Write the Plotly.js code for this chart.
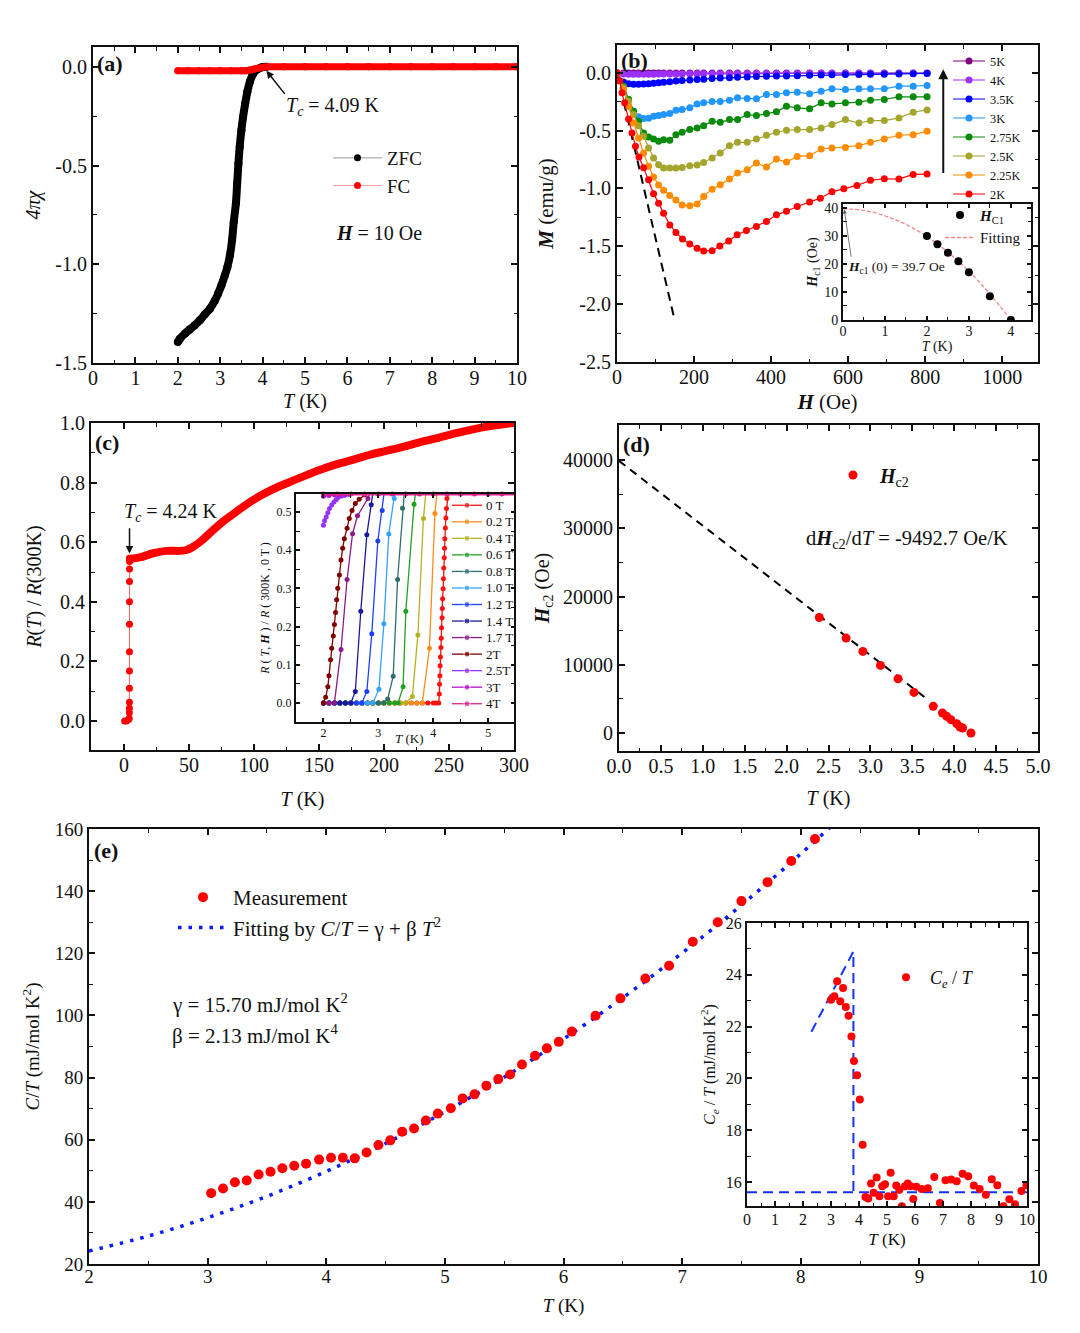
<!DOCTYPE html>
<html><head><meta charset="utf-8">
<script src="https://cdn.plot.ly/plotly-3.0.1.min.js"></script>
<style>html,body{margin:0;padding:0;background:#fff}#chart{width:1080px;height:1333px}</style>
</head><body><div id="chart"></div>
<script>
// ================= DATA =================
// (a) susceptibility
const ZFC_T = [2.0,2.05,2.17,2.28,2.40,2.52,2.64,2.76,2.87,2.95,3.03,3.11,3.17,3.23,3.28,3.32,3.37,3.40,3.43,3.46,3.50,3.54,3.59,3.64,3.70,3.78,3.87,3.98,4.09];
const ZFC_V = [-1.394,-1.377,-1.351,-1.331,-1.309,-1.284,-1.253,-1.225,-1.186,-1.149,-1.106,-1.056,-1.014,-0.954,-0.878,-0.785,-0.693,-0.591,-0.49,-0.405,-0.321,-0.253,-0.186,-0.127,-0.076,-0.034,-0.0135,-0.003,0];
const FC_T = [2.0,2.25,2.5,2.75,3.0,3.25,3.5,3.6,3.7,3.8,3.9,4.0,4.1,4.5,5,5.5,6,6.5,7,7.5,8,8.5,9,9.5,10];
const FC_V = [-0.02,-0.02,-0.02,-0.02,-0.02,-0.02,-0.02,-0.02,-0.017,-0.012,-0.007,-0.003,0,0,0,0,0,0,0,0,0,0,0,0,0];
const A_XTICKS = [0,1,2,3,4,5,6,7,8,9,10];
const A_YTICKS = [0,-0.5,-1,-1.5];
const A_YLABELS = ['0.0','-0.5','-1.0','-1.5'];

// (b) magnetization M(H)
const MH_LABELS = ['5K','4K','3.5K','3K','2.75K','2.5K','2.25K','2K'];
const MH_COLORS = ['#800080','#9B30FF','#0000FF','#2196FF','#0A8A0A','#A3A52C','#FF8C00','#FF0000'];
const H_GRID = [0,17,30,43,56,69,82,95,108,121,137,153,169,189,208,225,247,268,292,313,338,362,388,414,440,468,500,530,558,593,628,658,694,732,769,805];
const M_5K   = [0,-0.002,-0.002,-0.002,-0.002,-0.002,-0.002,-0.002,-0.002,-0.002,-0.002,-0.002,-0.002,-0.002,-0.002,-0.002,-0.002,-0.002,-0.002,-0.002,-0.002,-0.002,-0.002,-0.002,-0.002,-0.002,-0.002,-0.002,-0.002,-0.002,-0.002,-0.002,-0.002,-0.002,-0.002,-0.002];
const M_4K   = [0,-0.01,-0.012,-0.013,-0.013,-0.013,-0.012,-0.012,-0.011,-0.011,-0.010,-0.010,-0.010,-0.009,-0.009,-0.009,-0.008,-0.008,-0.008,-0.007,-0.007,-0.007,-0.007,-0.006,-0.006,-0.006,-0.006,-0.005,-0.005,-0.005,-0.005,-0.005,-0.004,-0.004,-0.004,-0.004];
const M_3p5K = [0,-0.08,-0.095,-0.10,-0.10,-0.098,-0.095,-0.09,-0.086,-0.082,-0.077,-0.072,-0.067,-0.062,-0.058,-0.055,-0.05,-0.046,-0.042,-0.039,-0.036,-0.033,-0.031,-0.029,-0.027,-0.025,-0.022,-0.02,-0.018,-0.016,-0.014,-0.013,-0.012,-0.01,-0.008,-0.006];
const M_3K   = [0,-0.116,-0.231,-0.332,-0.38,-0.396,-0.393,-0.376,-0.37,-0.361,-0.353,-0.324,-0.318,-0.303,-0.269,-0.26,-0.249,-0.249,-0.237,-0.217,-0.223,-0.225,-0.188,-0.188,-0.173,-0.168,-0.182,-0.159,-0.139,-0.145,-0.139,-0.139,-0.139,-0.116,-0.116,-0.11];
const M_2p75K= [0,-0.116,-0.231,-0.332,-0.419,-0.52,-0.555,-0.572,-0.592,-0.578,-0.584,-0.535,-0.514,-0.491,-0.477,-0.457,-0.419,-0.428,-0.405,-0.405,-0.361,-0.37,-0.353,-0.338,-0.289,-0.303,-0.312,-0.26,-0.269,-0.26,-0.254,-0.237,-0.231,-0.208,-0.208,-0.208];
const M_2p5K = [0,-0.13,-0.246,-0.361,-0.457,-0.549,-0.65,-0.737,-0.795,-0.824,-0.824,-0.824,-0.818,-0.803,-0.798,-0.775,-0.737,-0.694,-0.63,-0.601,-0.601,-0.572,-0.54,-0.514,-0.497,-0.491,-0.491,-0.477,-0.448,-0.405,-0.434,-0.413,-0.413,-0.39,-0.341,-0.321];
const M_2p25K= [0,-0.145,-0.289,-0.434,-0.564,-0.694,-0.809,-0.90,-0.97,-1.015,-1.06,-1.10,-1.142,-1.15,-1.135,-1.069,-1.006,-0.968,-0.919,-0.867,-0.838,-0.78,-0.815,-0.746,-0.772,-0.723,-0.717,-0.659,-0.65,-0.645,-0.63,-0.601,-0.572,-0.54,-0.535,-0.506];
const H_2K = [0,7,13,20,30,39,48,57,69,82,95,108,121,137,153,170,189,208,225,247,267,290,312,336,362,388,414,440,468,500,528,558,589,623,658,694,732,769,805];
const M_2K = [0,-0.07,-0.173,-0.26,-0.40,-0.52,-0.636,-0.728,-0.82,-0.925,-1.046,-1.127,-1.214,-1.315,-1.38,-1.436,-1.48,-1.517,-1.54,-1.538,-1.497,-1.454,-1.40,-1.364,-1.329,-1.286,-1.228,-1.197,-1.156,-1.118,-1.084,-1.029,-1.003,-0.974,-0.93,-0.916,-0.919,-0.879,-0.876];
const MEISSNER_H = [0,147];
const MEISSNER_M = [0,-2.1];
const B_XTICKS = [0,200,400,600,800,1000];
const B_YTICKS = [0,-0.5,-1,-1.5,-2,-2.5];
const B_YLABELS = ['0.0','-0.5','-1.0','-1.5','-2.0','-2.5'];

// (b) inset Hc1(T)
const HC1_T = [2,2.25,2.5,2.75,3,3.5,4];
const HC1_H = [30,27,24,21,17,8.5,0];
const HC1FIT_T = [0,0.5,1,1.5,2,2.5,3,3.5,4];
const HC1FIT_H = [39.7,39.1,37.2,34.1,29.8,24.2,17.4,9.3,0];

// (c) resistance
const R_TR_T = [0.5,2.0,3.5,4.0,4.1,4.15,4.17,4.18,4.19,4.2,4.21,4.22,4.23,4.235,4.24,4.25,4.3];
const R_TR_V = [0,0,0.005,0.009,0.028,0.043,0.063,0.11,0.168,0.233,0.325,0.40,0.468,0.51,0.535,0.546,0.546];
const R_N_T = [4.4,12.1,22.4,32.6,42.9,48.1,53.2,59.6,67.4,76.3,86.6,99.5,112.3,125.2,138.0,150.9,163.8,176.6,189.5,202.3,215.2,228.0,240.9,253.7,266.6,279.4,292.3,300];
const R_N_V = [0.544,0.549,0.563,0.571,0.571,0.574,0.585,0.605,0.636,0.670,0.703,0.742,0.773,0.798,0.821,0.843,0.862,0.877,0.894,0.907,0.921,0.936,0.949,0.964,0.977,0.988,0.996,1.0];
const C_XTICKS = [0,50,100,150,200,250,300];
const C_YTICKS = [0,0.2,0.4,0.6,0.8,1.0];
const C_YLABELS = ['0.0','0.2','0.4','0.6','0.8','1.0'];

// (c) inset R(T,H)
const FIELD_LABELS = ['0 T','0.2 T','0.4 T','0.6 T','0.8 T','1.0 T','1.2 T','1.4 T','1.7 T','2T','2.5T','3T','4T'];
const FIELD_COLORS = ['#FF1010','#FF8C1A','#B3B323','#22A022','#2F6F6F','#36A2FF','#1F3FFF','#1A1A99','#8B1A8B','#800000','#9933FF','#B414D0','#E0208C'];
const RH_T = [
 [2.0,2.1,2.2,2.3,2.4,2.5,2.6,2.7,2.8,2.9,3.0,3.1,3.2,3.3,3.4,3.5,3.6,3.7,3.8,3.9,4.0,4.05,4.10,4.11,4.115,4.12,4.125,4.13,4.14,4.145,4.15,4.16,4.165,4.17,4.18,4.185,4.19,4.20,4.205,4.21,4.22,4.23,4.24,4.25,4.26,4.30],
 [2.0,2.1,2.2,2.3,2.4,2.5,2.6,2.7,2.8,2.9,3.0,3.1,3.2,3.3,3.4,3.5,3.6,3.7,3.8,3.93,4.03,4.10],
 [2.0,2.1,2.2,2.3,2.4,2.5,2.6,2.7,2.8,2.9,3.0,3.1,3.2,3.3,3.4,3.5,3.62,3.72,3.82,3.90],
 [2.0,2.1,2.2,2.3,2.4,2.5,2.6,2.7,2.8,2.9,3.0,3.1,3.2,3.3,3.36,3.45,3.50,3.65,3.72],
 [2.0,2.1,2.2,2.3,2.4,2.5,2.6,2.7,2.8,2.9,3.0,3.1,3.17,3.27,3.35,3.44,3.50],
 [2.0,2.1,2.2,2.3,2.4,2.5,2.6,2.7,2.8,2.9,3.01,3.10,3.19,3.29,3.35],
 [2.0,2.1,2.2,2.3,2.4,2.5,2.6,2.7,2.79,2.88,2.99,3.07,3.15],
 [2.0,2.1,2.2,2.3,2.4,2.5,2.58,2.68,2.79,2.87,2.95],
 [2.0,2.1,2.2,2.32,2.43,2.53,2.62,2.81,2.95],
 [2.0,2.04,2.08,2.10,2.13,2.15,2.18,2.2,2.22,2.24,2.26,2.29,2.32,2.35,2.38,2.43,2.47,2.52,2.58,2.65,2.75,2.9],
 [2.0,2.02,2.05,2.08,2.11,2.15,2.19,2.23,2.26,2.32,2.38,2.45,2.55,2.7],
 [2.0,2.1,2.2,2.3,2.4,2.5,2.7],
 [2.0,2.25,2.5,2.75,3.0,3.25,3.5,3.75,4.0,4.25,4.5,4.75,5.0,5.25,5.5]
];
const RH_R = [
 [0,0,0,0,0,0,0,0,0,0,0,0,0,0,0,0,0,0,0,0,0,0,0,0.023,0.049,0.071,0.097,0.12,0.145,0.169,0.197,0.223,0.247,0.273,0.299,0.325,0.353,0.38,0.405,0.43,0.458,0.484,0.509,0.535,0.56,0.60],
 [0,0,0,0,0,0,0,0,0,0,0,0,0,0,0,0,0,0,0,0.143,0.496,0.60],
 [0,0,0,0,0,0,0,0,0,0,0,0,0,0,0,0,0.017,0.178,0.483,0.60],
 [0,0,0,0,0,0,0,0,0,0,0,0,0,0,0,0.042,0.24,0.52,0.60],
 [0,0,0,0,0,0,0,0,0,0,0,0,0.01,0.07,0.323,0.51,0.60],
 [0,0,0,0,0,0,0,0,0,0,0.036,0.207,0.442,0.535,0.60],
 [0,0,0,0,0,0,0,0,0.03,0.181,0.424,0.504,0.60],
 [0,0,0,0,0,0,0.03,0.24,0.44,0.519,0.60],
 [0,0,0,0.14,0.323,0.443,0.49,0.535,0.60],
 [0,0.015,0.042,0.071,0.113,0.143,0.175,0.205,0.237,0.27,0.3,0.335,0.374,0.405,0.43,0.457,0.483,0.504,0.522,0.533,0.545,0.56],
 [0.465,0.477,0.487,0.498,0.509,0.518,0.526,0.532,0.537,0.541,0.543,0.546,0.55,0.555],
 [0.541,0.543,0.545,0.546,0.547,0.548,0.55],
 [0.547,0.547,0.547,0.547,0.547,0.547,0.547,0.547,0.547,0.547,0.547,0.547,0.547,0.547,0.547]
];
const CI_XTICKS = [2,3,4,5];
const CI_YTICKS = [0,0.1,0.2,0.3,0.4,0.5];
const CI_YLABELS = ['0.0','0.1','0.2','0.3','0.4','0.5'];

// (d) Hc2(T)
const HC2_T = [2.39,2.71,2.91,3.12,3.33,3.52,3.75,3.86,3.91,3.96,4.03,4.07,4.10,4.20];
const HC2_H = [16930,13900,11950,9900,7950,5950,3900,2930,2440,1950,1370,880,730,0];
const HC2FIT_T = [0,3.65];
const HC2FIT_H = [39870,5220];
const D_XTICKS = [0,0.5,1,1.5,2,2.5,3,3.5,4,4.5,5];
const D_XLABELS = ['0.0','0.5','1.0','1.5','2.0','2.5','3.0','3.5','4.0','4.5','5.0'];
const D_YTICKS = [0,10000,20000,30000,40000];

// (e) specific heat
const CT_T = [3.03,3.13,3.23,3.33,3.43,3.53,3.63,3.73,3.83,3.94,4.04,4.14,4.24,4.34,4.44,4.54,4.64,4.74,4.84,4.94,5.05,5.15,5.25,5.35,5.45,5.55,5.65,5.76,5.86,5.96,6.07,6.27,6.48,6.69,6.89,7.09,7.30,7.50,7.72,7.92,8.12];
const CT_V = [42.8,44.3,46.3,46.9,48.8,49.7,50.8,51.6,52.3,53.6,54.2,54.2,54.0,55.9,58.3,59.8,62.6,63.6,66.2,68.4,70.1,73.3,74.6,77.4,79.5,81.0,84.2,87.0,89.4,91.5,94.8,99.9,105.5,111.9,116.0,123.7,130.0,136.8,142.9,149.7,156.8];
const CTFIT_T = [2,2.5,3,3.5,4,4.5,5,5.5,6,6.5,7,7.5,8,8.3];
const CTFIT_V = [24.2,29.0,34.9,41.8,49.8,58.8,69.0,80.1,92.4,105.7,120.1,135.5,152.0,162.4];
const E_XTICKS = [2,3,4,5,6,7,8,9,10];
const E_YTICKS = [20,40,60,80,100,120,140,160];

// (e) inset Ce/T
const CE_T = [3.0,3.12,3.22,3.33,3.43,3.53,3.63,3.73,3.82,3.93,4.03,4.13,4.23,4.33,4.43,4.52,4.63,4.73,4.83,4.93,5.04,5.13,5.24,5.33,5.44,5.53,5.64,5.74,5.84,5.94,6.05,6.24,6.46,6.69,6.89,7.09,7.29,7.49,7.70,7.90,8.10,8.31,8.53,8.74,8.94,9.16,9.37,9.57,9.80,9.98];
const CE_V = [23.04,23.17,23.75,22.98,23.49,22.76,22.42,21.62,20.67,20.12,19.18,17.44,15.42,15.36,15.94,15.58,16.17,15.45,15.83,15.91,15.45,16.35,15.45,15.86,15.70,15.06,15.83,15.94,15.83,15.34,15.81,15.73,15.76,16.19,15.19,16.06,16.09,16.03,16.32,16.22,15.86,15.73,15.50,16.10,15.87,15.06,15.33,15.14,15.65,15.87];
const CEGUIDE_T = [2.3,3.8,3.8,null,0,10];
const CEGUIDE_V = [21.8,24.9,15.6,null,15.6,15.6];
const EI_XTICKS = [0,1,2,3,4,5,6,7,8,9,10];
const EI_YTICKS = [16,18,20,22,24,26];

// ================= STYLE / LAYOUT =================
const FONT = '"Liberation Serif", "Times New Roman", serif';
const INK = '#111111';
const W = 1080, H = 1333;
const dX = (a, b) => [a / W, b / W];
const dY = (top, bottom) => [1 - bottom / H, 1 - top / H];

// rich-text helpers: styled spans carry an explicit pixel size
const it = (s, px) => '<span style="font-style:italic;font-size:' + px + 'px">' + s + '</span>';
const bf = (s, px) => '<span style="font-weight:bold;font-size:' + px + 'px">' + s + '</span>';
const bi = (s, px) => '<span style="font-weight:bold;font-style:italic;font-size:' + px + 'px">' + s + '</span>';
const TK = px => it('T', px) + ' (K)';
const sub = (s, px) => '<sub>' + s + '</sub>';

function axis(o) {
  return Object.assign({
    showline: true, linecolor: INK, linewidth: 2, mirror: 'allticks',
    ticks: 'inside', ticklen: 6, tickwidth: 1.5, tickcolor: INK,
    showgrid: false, zeroline: false, automargin: false, fixedrange: true,
    tickmode: 'array', tickfont: {family: FONT, size: 20, color: INK}
  }, o);
}
function minor(d) { return {ticks: 'inside', ticklen: 3.5, tickwidth: 1.2, tickcolor: INK, dtick: d, tick0: 0, showgrid: false}; }
function ttl(text, size, standoff) { return {text: text, font: {family: FONT, size: size, color: INK}, standoff: standoff}; }
function leg(x, top, size, itemwidth) {
  return {x: x / W, y: 1 - top / H, xanchor: 'left', yanchor: 'top', bgcolor: 'rgba(0,0,0,0)',
          borderwidth: 0, itemwidth: itemwidth, tracegroupgap: 0, traceorder: 'normal',
          font: {family: FONT, size: size, color: INK}, itemclick: false, itemdoubleclick: false};
}

const traces = [];

// ---- (a)
traces.push({x: ZFC_T, y: ZFC_V, xaxis: 'x', yaxis: 'y', name: 'ZFC', legend: 'legend', mode: 'lines+markers',
  line: {color: '#9a9a9a', width: 1}, marker: {color: '#000', size: 7}});
traces.push({x: FC_T, y: FC_V, xaxis: 'x', yaxis: 'y', name: 'FC', legend: 'legend', mode: 'lines+markers',
  line: {color: '#ff9a9a', width: 1}, marker: {color: '#ff0000', size: 7}});
traces.push({x: ZFC_T, y: ZFC_V, xaxis: 'x', yaxis: 'y', showlegend: false, mode: 'lines+markers',
  line: {color: '#000', width: 8, shape: 'spline'}, marker: {color: '#000', size: 8}});
traces.push({x: FC_T, y: FC_V, xaxis: 'x', yaxis: 'y', showlegend: false, mode: 'lines+markers',
  line: {color: '#ff0000', width: 7, shape: 'spline'}, marker: {color: '#ff0000', size: 7}});

// ---- (b)
traces.push({x: MEISSNER_H, y: MEISSNER_M, xaxis: 'x2', yaxis: 'y2', showlegend: false, mode: 'lines',
  line: {color: '#000', width: 2, dash: '9px,6px'}});
const M_SERIES = [M_5K, M_4K, M_3p5K, M_3K, M_2p75K, M_2p5K, M_2p25K, M_2K];
MH_LABELS.forEach(function (lab, i) {
  traces.push({x: i === 7 ? H_2K : H_GRID, y: M_SERIES[i], xaxis: 'x2', yaxis: 'y2', name: lab, legend: 'legend2',
    mode: 'lines+markers', line: {color: MH_COLORS[i], width: 1.2}, marker: {color: MH_COLORS[i], size: 7}});
});

// ---- (b) inset
traces.push({x: HC1FIT_T, y: HC1FIT_H, xaxis: 'x3', yaxis: 'y3', name: 'Fitting', legend: 'legend3', legendrank: 2,
  mode: 'lines', line: {color: '#f08a8a', width: 1.3, dash: '4px,2px', shape: 'spline'}});
traces.push({x: HC1_T, y: HC1_H, xaxis: 'x3', yaxis: 'y3', name: bi('H', 15) + '<sub>C1</sub>', legend: 'legend3', legendrank: 1,
  mode: 'markers', marker: {color: '#000', size: 8}});

// ---- (c)
traces.push({x: R_N_T, y: R_N_V, xaxis: 'x4', yaxis: 'y4', showlegend: false, mode: 'lines',
  line: {color: '#ff0000', width: 8, shape: 'spline'}});
traces.push({x: R_TR_T, y: R_TR_V, xaxis: 'x4', yaxis: 'y4', showlegend: false, mode: 'lines+markers',
  line: {color: '#ff6060', width: 1}, marker: {color: '#ff0000', size: 7}});

// ---- (c) inset
FIELD_LABELS.forEach(function (lab, i) {
  traces.push({x: RH_T[i], y: RH_R[i], xaxis: 'x5', yaxis: 'y5', name: lab, showlegend: false,
    mode: 'lines+markers', cliponaxis: i === 12 ? false : true,
    line: {color: FIELD_COLORS[i], width: i === 12 ? 3 : 1.3}, marker: {color: FIELD_COLORS[i], size: 5}});
});
// key for the inset (drawn on its own small hidden axes so the rows can be packed tightly)
const KEY_X = [0, 15, 30];
FIELD_LABELS.forEach(function (lab, i) {
  traces.push({x: KEY_X, y: [i, i, i], xaxis: 'x9', yaxis: 'y9', showlegend: false, hoverinfo: 'skip',
    mode: 'lines+markers', line: {color: FIELD_COLORS[i], width: 1.3}, marker: {color: FIELD_COLORS[i], size: [0, 6, 0]}});
});

// ---- (d)
traces.push({x: HC2FIT_T, y: HC2FIT_H, xaxis: 'x6', yaxis: 'y6', showlegend: false, mode: 'lines',
  line: {color: '#000', width: 2, dash: '8px,6px'}});
traces.push({x: HC2_T, y: HC2_H, xaxis: 'x6', yaxis: 'y6', name: bi('H', 20) + '<sub>c2</sub>', legend: 'legend4',
  mode: 'markers', marker: {color: '#ff0000', size: 9}});

// ---- (e)
traces.push({x: CTFIT_T, y: CTFIT_V, xaxis: 'x7', yaxis: 'y7', legend: 'legend5', legendrank: 2,
  name: 'Fitting by ' + it('C', 21) + '/' + it('T', 21) + ' = γ + β ' + it('T', 21) + '<sup>2</sup>', mode: 'lines',
  line: {color: '#0a1aff', width: 3.5, dash: '3.5px,7px', shape: 'spline'}});
traces.push({x: CT_T, y: CT_V, xaxis: 'x7', yaxis: 'y7', legend: 'legend5', legendrank: 1, name: 'Measurement',
  mode: 'markers', marker: {color: '#ff0000', size: 10}});

// ---- (e) inset
traces.push({x: CEGUIDE_T, y: CEGUIDE_V, xaxis: 'x8', yaxis: 'y8', showlegend: false, mode: 'lines',
  line: {color: '#1432ff', width: 2, dash: '10px,6px'}});
traces.push({x: CE_T, y: CE_V, xaxis: 'x8', yaxis: 'y8', legend: 'legend6',
  name: it('C', 18) + '<sub>' + it('e', 12.6) + '</sub> / ' + it('T', 18),
  mode: 'markers', marker: {color: '#ff0000', size: 8}});

// ---- annotations
const ann = [];
function lab(t, xref, yref, x, y, size, xa, ya) {
  ann.push({text: t, xref: xref, yref: yref, x: x, y: y, showarrow: false, xanchor: xa || 'left', yanchor: ya || 'middle',
    font: {family: FONT, size: size, color: INK}});
}
function arrow(xref, yref, x, y, ax, ay, w, col, head) {
  ann.push({text: '', xref: xref, yref: yref, x: x, y: y, ax: ax, ay: ay, axref: xref, ayref: yref,
    showarrow: true, arrowhead: head || 2, arrowsize: 1, arrowwidth: w, arrowcolor: col || INK,
    font: {family: FONT, size: 12, color: INK}});
}
// panel letters
lab(bf('(a)', 22), 'x domain', 'y domain', 0.005, 0.995, 22, 'left', 'top');
lab(bf('(b)', 22), 'x2 domain', 'y2 domain', 0.005, 0.998, 22, 'left', 'top');
lab(bf('(c)', 22), 'x4 domain', 'y4 domain', 0.005, 0.985, 22, 'left', 'top');
lab(bf('(d)', 22), 'x6 domain', 'y6 domain', 0.005, 0.985, 22, 'left', 'top');
lab(bf('(e)', 22), 'x7 domain', 'y7 domain', 0.003, 0.985, 22, 'left', 'top');
// (a)
lab(it('T', 20) + '<sub>' + it('c', 14) + '</sub> = 4.09 K', 'x', 'y', 4.5, -0.2, 20);
arrow('x', 'y', 4.09, -0.02, 4.55, -0.145, 1.5);
lab(bi('H', 20) + ' = 10 Oe', 'x', 'y', 5.68, -0.84, 20);
// (b)
arrow('x2', 'y2', 847, 0.03, 847, -0.88, 2);
// (b) inset
lab(bi('H', 13.5) + '<sub>c1</sub> (0) = 39.7 Oe', 'x3', 'y3', 0.08, 18.6, 13.5);
arrow('x3', 'y3', 0.03, 39.4, 0.2, 22, 0.8, '#555', 2);
// (c)
lab(it('T', 20) + '<sub>' + it('c', 14) + '</sub> = 4.24 K', 'x4', 'y4', -1.5, 0.70, 20);
arrow('x4', 'y4', 4.24, 0.562, 4.24, 0.652, 1.5);
lab(TK(13), 'x5', 'paper', 3.57, 1 - 738 / H, 13, 'center');
FIELD_LABELS.forEach(function (l, i) { lab(l, 'x9', 'y9', 32, i, 13); });
// (d)
lab('d' + bi('H', 20.5) + '<sub>c2</sub>/d' + it('T', 20.5) + ' = -9492.7 Oe/K', 'x6', 'y6', 3.44, 28300, 20.5, 'center');
// (e)
lab('γ = 15.70 mJ/mol K<sup>2</sup>', 'x7', 'y7', 2.68, 104.0, 21);
lab('β = 2.13 mJ/mol K<sup>4</sup>', 'x7', 'y7', 2.68, 94.0, 21);

const layout = {
  width: W, height: H, margin: {l: 0, r: 0, t: 0, b: 0},
  paper_bgcolor: '#fff', plot_bgcolor: '#fff', showlegend: true,
  font: {family: FONT, color: INK, size: 14},
  annotations: ann,
  // (a)
  xaxis: axis({domain: dX(93, 517), range: [0, 10], anchor: 'y', tickvals: A_XTICKS, ticktext: A_XTICKS.map(String),
    ticklabelstandoff: -4, minor: minor(0.5), title: ttl(TK(20), 20, 6)}),
  yaxis: axis({domain: dY(47, 363), range: [-1.5, 0.1], anchor: 'x', tickvals: A_YTICKS, ticktext: A_YLABELS,
    minor: minor(0.25), title: ttl(it('4πχ', 20), 20, 9)}),
  // (b)
  xaxis2: axis({domain: dX(617, 1038), range: [0, 1093], anchor: 'y2', tickvals: B_XTICKS, ticktext: B_XTICKS.map(String),
    ticklabelstandoff: -4, minor: minor(100), title: ttl(bi('H', 21) + ' (Oe)', 21, 7)}),
  yaxis2: axis({domain: dY(45, 362), range: [-2.5, 0.24], anchor: 'x2', tickvals: B_YTICKS, ticktext: B_YLABELS,
    minor: minor(0.25), title: ttl(bi('M', 21) + ' (emu/g)', 21, 20)}),
  // (b) inset
  xaxis3: axis({domain: dX(843, 1031), range: [0, 4.48], anchor: 'y3', tickvals: [0, 1, 2, 3, 4], ticktext: ['0', '1', '2', '3', '4'],
    ticklabelstandoff: -3, ticklen: 4, tickfont: {family: FONT, size: 14, color: INK}, minor: minor(0.5), title: ttl(TK(14), 14, 3)}),
  yaxis3: axis({domain: dY(204, 320), range: [0, 41.4], anchor: 'x3', tickvals: [0, 10, 20, 30, 40], ticktext: ['0', '10', '20', '30', '40'],
    ticklen: 4, tickfont: {family: FONT, size: 14, color: INK}, minor: minor(5), title: ttl(bi('H', 14) + '<sub>c1</sub> (Oe)', 14, 3)}),
  // (c)
  xaxis4: axis({domain: dX(91, 514), range: [-25.4, 300], anchor: 'y4', tickvals: C_XTICKS, ticktext: C_XTICKS.map(String),
    ticklabelstandoff: -4, minor: minor(25), title: ttl(TK(20), 20, 17)}),
  yaxis4: axis({domain: dY(423, 750), range: [-0.097, 1.0], anchor: 'x4', tickvals: C_YTICKS, ticktext: C_YLABELS,
    minor: minor(0.1), title: ttl(it('R', 20) + '(' + it('T', 20) + ') / ' + it('R', 20) + '(300K)', 20, 13)}),
  // (c) inset
  xaxis5: axis({domain: dX(296, 514), range: [1.5, 5.47], anchor: 'y5', tickvals: CI_XTICKS, ticktext: CI_XTICKS.map(String),
    ticklabelstandoff: -1, ticklen: 4, tickfont: {family: FONT, size: 12, color: INK}, minor: minor(0.5)}),
  yaxis5: axis({domain: dY(494, 722), range: [-0.05, 0.547], anchor: 'x5', tickvals: CI_YTICKS, ticktext: CI_YLABELS,
    ticklen: 4, tickfont: {family: FONT, size: 12, color: INK}, minor: minor(0.05),
    title: ttl(it('R', 12) + ' ( ' + it('T', 12) + ', ' + bi('H', 12) + ' ) / ' + it('R', 12) + ' ( 300K , 0 T )', 12, 4)}),
  // key axes for (c) inset
  xaxis9: {domain: dX(452, 511), range: [0, 59], anchor: 'y9', visible: false, fixedrange: true},
  yaxis9: {domain: dY(497, 712), range: [12.5, -0.5], anchor: 'x9', visible: false, fixedrange: true},
  // (d)
  xaxis6: axis({domain: dX(619, 1038), range: [0, 5], anchor: 'y6', tickvals: D_XTICKS, ticktext: D_XLABELS,
    ticklabelstandoff: -4, minor: minor(0.25), title: ttl(TK(20), 20, 15)}),
  yaxis6: axis({domain: dY(425, 751), range: [-2640, 45130], anchor: 'x6', tickvals: D_YTICKS, ticktext: D_YTICKS.map(String),
    minor: minor(5000), title: ttl(bi('H', 20) + '<sub>c2</sub> (Oe)', 20, 8)}),
  // (e)
  xaxis7: axis({domain: dX(89, 1038), range: [2, 10], anchor: 'y7', tickvals: E_XTICKS, ticktext: E_XTICKS.map(String),
    ticklabelstandoff: -6, tickfont: {family: FONT, size: 19, color: INK}, minor: minor(0.5), title: ttl(TK(19), 19, 13)}),
  yaxis7: axis({domain: dY(829, 1264), range: [20, 160], anchor: 'x7', tickvals: E_YTICKS, ticktext: E_YTICKS.map(String),
    tickfont: {family: FONT, size: 19, color: INK}, minor: minor(10),
    title: ttl(it('C', 19) + '/' + it('T', 19) + ' (mJ/mol K<sup>2</sup>)', 19, 10)}),
  // (e) inset
  xaxis8: axis({domain: dX(747, 1027), range: [0, 10], anchor: 'y8', tickvals: EI_XTICKS, ticktext: EI_XTICKS.map(String),
    ticklabelstandoff: -2, ticklen: 5, tickfont: {family: FONT, size: 16, color: INK}, minor: minor(0.5), title: ttl(TK(17), 17, 6)}),
  yaxis8: axis({domain: dY(923, 1206), range: [15.07, 26], anchor: 'x8', tickvals: EI_YTICKS, ticktext: EI_YTICKS.map(String),
    ticklen: 5, tickfont: {family: FONT, size: 16, color: INK}, minor: minor(1),
    title: ttl(it('C', 16) + '<sub>' + it('e', 11.2) + '</sub> / ' + it('T', 16) + ' (mJ/mol K<sup>2</sup>)', 16, 6)}),
  legend: leg(328, 139, 19, 49),
  legend2: leg(948, 46.5, 12.3, 32),
  legend3: leg(940, 198.75, 15, 30),
  legend4: leg(826, 455.5, 20, 44),
  legend5: leg(173, 877, 21, 50),
  legend6: leg(882, 959, 18, 38)
};

Plotly.newPlot('chart', traces, layout, {displayModeBar: false, responsive: false});
</script></body></html>
